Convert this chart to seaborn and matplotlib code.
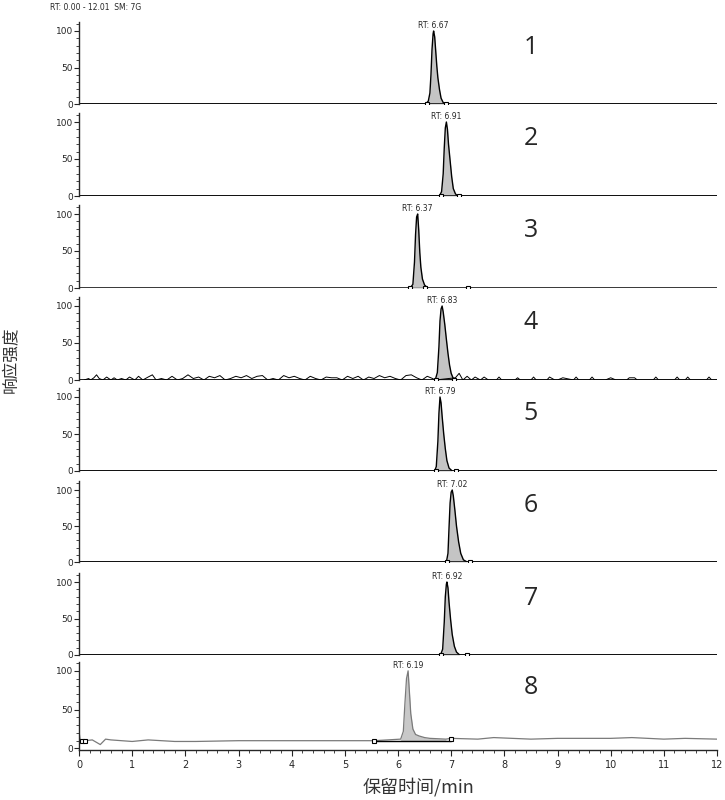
import numpy as np
import pandas as pd
import matplotlib.pyplot as plt
import seaborn as sns
from matplotlib.ticker import MultipleLocator

sns.set_style('ticks')
plt.rcParams['font.family'] = ['DejaVu Sans']

# retention time labels for the 8 chromatograms
rt_labels = ['RT: 6.67', 'RT: 6.91', 'RT: 6.37', 'RT: 6.83', 'RT: 6.79', 'RT: 7.02', 'RT: 6.92', 'RT: 6.19']
rt_apex = [6.67, 6.91, 6.37, 6.83, 6.79, 7.02, 6.92, 6.19]

# peak profiles (time in min, relative abundance)
p1_t = [0.00, 6.52, 6.57, 6.60, 6.62, 6.64, 6.66, 6.67, 6.69, 6.71, 6.73, 6.75, 6.78, 6.81, 6.85, 6.90, 12.0]
p1_v = [0, 0, 4, 15, 40, 75, 96, 100, 92, 72, 52, 36, 20, 8, 2, 0, 0]
p2_t = [0.00, 6.78, 6.82, 6.85, 6.87, 6.89, 6.91, 6.93, 6.95, 6.98, 7.01, 7.04, 7.08, 7.12, 12.0]
p2_v = [0, 0, 6, 30, 65, 92, 100, 90, 70, 48, 26, 10, 3, 0, 0]
p3_t = [0.00, 6.23, 6.28, 6.31, 6.33, 6.35, 6.37, 6.39, 6.41, 6.43, 6.46, 6.50, 6.56, 12.0]
p3_v = [0, 0, 5, 35, 72, 96, 100, 78, 48, 28, 12, 4, 0, 0]
p4_t = [6.70, 6.74, 6.77, 6.79, 6.81, 6.83, 6.85, 6.88, 6.91, 6.94, 6.97, 7.00, 7.04, 7.08]
p4_v = [0, 10, 45, 80, 96, 100, 92, 75, 55, 36, 20, 9, 2, 0]
p5_t = [0.00, 6.69, 6.72, 6.75, 6.77, 6.79, 6.81, 6.83, 6.86, 6.89, 6.92, 6.96, 7.02, 12.0]
p5_v = [0, 0, 6, 40, 78, 100, 92, 74, 50, 30, 14, 4, 0, 0]
p6_t = [0.00, 6.91, 6.94, 6.96, 6.98, 7.00, 7.02, 7.04, 7.07, 7.10, 7.14, 7.18, 7.23, 7.30, 12.0]
p6_v = [0, 0, 12, 48, 82, 97, 100, 92, 72, 50, 28, 12, 3, 0, 0]
p7_t = [0.00, 6.80, 6.84, 6.87, 6.89, 6.91, 6.92, 6.94, 6.96, 6.99, 7.02, 7.06, 7.10, 7.16, 12.0]
p7_v = [0, 0, 8, 45, 80, 97, 100, 92, 72, 48, 28, 12, 4, 0, 0]
p8_t = [0.00, 0.02, 0.05, 0.12, 0.25, 0.40, 0.50, 0.60, 1.00, 1.30, 1.80, 2.20, 3.00, 4.00, 5.00, 5.55,
        6.05, 6.10, 6.13, 6.16, 6.19, 6.21, 6.24, 6.28, 6.33, 6.40, 6.50, 6.60, 6.90, 7.00, 7.50,
        7.80, 8.50, 9.00, 10.00, 10.40, 11.00, 11.40, 12.0]
p8_v = [22, 12, 10, 10, 11, 5, 12, 11, 9, 11, 9, 9, 10, 10, 10, 10,
        12, 22, 58, 90, 100, 78, 45, 25, 18, 16, 14, 13, 12, 13, 12,
        14, 12, 13, 13, 14, 12, 13, 12]

# noise trace of chromatogram 4
n4_t = [0.10, 0.18, 0.22, 0.28, 0.33, 0.38, 0.45, 0.52, 0.60, 0.66, 0.72, 0.80, 0.88, 0.95, 1.05, 1.12, 1.20,
        1.30, 1.38, 1.45, 1.55, 1.65, 1.75, 1.85, 1.95, 2.05, 2.15, 2.25, 2.35, 2.45, 2.55, 2.65, 2.75,
        2.85, 2.95, 3.05, 3.15, 3.25, 3.35, 3.45, 3.55, 3.65, 3.75, 3.85, 3.95, 4.05, 4.15, 4.25, 4.35,
        4.45, 4.55, 4.65, 4.75, 4.85, 4.95, 5.05, 5.15, 5.25, 5.35, 5.45, 5.55, 5.65, 5.75, 5.85, 5.95,
        6.05, 6.15, 6.25, 6.35, 6.45, 6.55, 6.65, 6.70,
        7.08, 7.15, 7.22, 7.30, 7.38, 7.45, 7.55, 7.62, 7.70, 7.85, 7.90, 7.95, 8.20, 8.25, 8.30, 8.50,
        8.55, 8.60, 8.80, 8.85, 8.95, 9.00, 9.10, 9.30, 9.35, 9.40, 9.60, 9.65, 9.70, 9.90, 10.0, 10.1,
        10.3, 10.35, 10.45, 10.5, 10.55, 10.8, 10.85, 10.9, 11.2, 11.25, 11.3, 11.4, 11.45, 11.5,
        11.8, 11.85, 11.9, 12.0]
n4_v = [0, 2, 0, 3, 7, 2, 0, 4, 0, 3, 0, 2, 0, 4, 0, 5, 0,
        4, 7, 0, 2, 0, 5, 0, 2, 7, 2, 4, 0, 5, 3, 6, 0,
        2, 5, 3, 6, 2, 5, 6, 0, 2, 0, 6, 3, 5, 2, 0, 5,
        2, 0, 4, 3, 3, 0, 5, 2, 5, 0, 4, 2, 6, 3, 5, 2,
        0, 6, 7, 3, 0, 5, 2, 0,
        3, 9, 0, 5, 0, 4, 0, 4, 0, 0, 4, 0, 0, 3, 0, 0,
        4, 0, 0, 4, 0, 0, 3, 0, 4, 0, 0, 4, 0, 0, 3, 0,
        0, 3, 3, 0, 0, 0, 4, 0, 0, 4, 0, 0, 4, 0,
        0, 4, 0, 0]

# small integration markers (time, level)
mk_t = [[6.55, 6.90], [6.80, 7.15], [6.22, 6.50, 7.31], [6.72, 7.05], [6.72, 7.10], [6.93, 7.35], [6.80, 7.30], [0.05, 0.12, 5.55, 7.00]]
mk_v = [[0, 0], [0, 0], [0, 0, 0], [0, 0], [0, 0], [0, 0], [0, 0], [10, 10, 10, 12]]

peaks_t = [p1_t, p2_t, p3_t, p4_t, p5_t, p6_t, p7_t, p8_t]
peaks_v = [p1_v, p2_v, p3_v, p4_v, p5_v, p6_v, p7_v, p8_v]
panel_nums = ['1', '2', '3', '4', '5', '6', '7', '8']

# layout: pixel rows of y=0 and y=100 for each panel
y0_px = [104, 196, 288, 380, 471, 562, 655, 750]
y100_px = [31, 122, 214, 306, 397, 490, 582, 671]

W, H = 725, 800
fig = plt.figure(figsize=(W / 100, H / 100), dpi=100)
left, right = 79, 717

for i in range(8):
    top_val = 112
    h_px = (y0_px[i] - y100_px[i]) * top_val / 100
    ax = fig.add_axes([left / W, (H - y0_px[i]) / H, (right - left) / W, h_px / H])
    df = pd.DataFrame({'t': peaks_t[i], 'v': peaks_v[i]})

    if i == 3:
        # noisy baseline, drawn first
        noise = pd.DataFrame({'t': n4_t, 'v': n4_v})
        sns.lineplot(data=noise, x='t', y='v', ax=ax, color='black', lw=0.7, estimator=None, sort=False)
        ax.axhline(0, color='black', lw=1.2)

    if i == 7:
        line_col, fill_col = '#7a7a7a', '#c8c8c8'
        pk = df[(df['t'] >= 6.05) & (df['t'] <= 6.90)]
        ax.fill_between(pk['t'], 10, pk['v'], color=fill_col, lw=0)
        sns.lineplot(data=df, x='t', y='v', ax=ax, color=line_col, lw=0.9, estimator=None, sort=False)
        ax.plot([5.55, 7.0], [10, 10], color='black', lw=1)
    else:
        fill_col = '#c4c4c4'
        ax.fill_between(df['t'], 0, df['v'], color=fill_col, lw=0)
        lw = 1.0 if i in (2, 3) else 1.8
        sns.lineplot(data=df, x='t', y='v', ax=ax, color='black', lw=1.0, estimator=None, sort=False)
        ax.axhline(0, color='black', lw=lw)

    ax.plot(mk_t[i], mk_v[i], ls='none', marker='s', ms=3.2, mfc='white', mec='black', mew=0.8)

    ax.text(rt_apex[i], 101, rt_labels[i], ha='center', va='bottom', fontsize=5.5)
    ax.text(8.5, 78, panel_nums[i], ha='center', va='center', fontsize=18,
            family=['Open Sans', 'DejaVu Sans'])

    ax.set_xlim(0, 12)
    ax.set_ylim(0 if i < 7 else -2, top_val)
    ax.set_yticks([0, 50, 100])
    ax.yaxis.set_minor_locator(MultipleLocator(10))
    ax.tick_params(axis='y', which='major', length=3.5, width=0.8, labelsize=6.5, pad=1)
    ax.tick_params(axis='y', which='minor', length=2, width=0.6)
    ax.set_xlabel('')
    ax.set_ylabel('')
    sns.despine(ax=ax, top=True, right=True)
    ax.spines['left'].set_linewidth(1.0)
    ax.spines['bottom'].set_linewidth(1.0)

    if i < 7:
        ax.spines['bottom'].set_visible(False)
        ax.set_xticks([])
    else:
        ax.set_xticks(np.arange(0, 13, 1))
        ax.xaxis.set_minor_locator(MultipleLocator(0.2))
        ax.tick_params(axis='x', which='major', length=4, width=0.8, labelsize=7, pad=3)
        ax.tick_params(axis='x', which='minor', length=2.5, width=0.6)

fig.text(50 / W, 1 - 8 / H, 'RT: 0.00 - 12.01  SM: 7G', fontsize=5.5, ha='left', va='center')
fig.text(12 / W, 1 - 360 / H, '响应强度', rotation=90, fontsize=12, ha='center', va='center',
         family=['Noto Sans CJK SC', 'DejaVu Sans'], color='#333333')
fig.text(418 / W, 1 - 787 / H, '保留时间/min', fontsize=13, ha='center', va='center',
         family=['Noto Sans CJK SC', 'DejaVu Sans'], color='#333333')

fig.savefig('out.png', dpi=100)
